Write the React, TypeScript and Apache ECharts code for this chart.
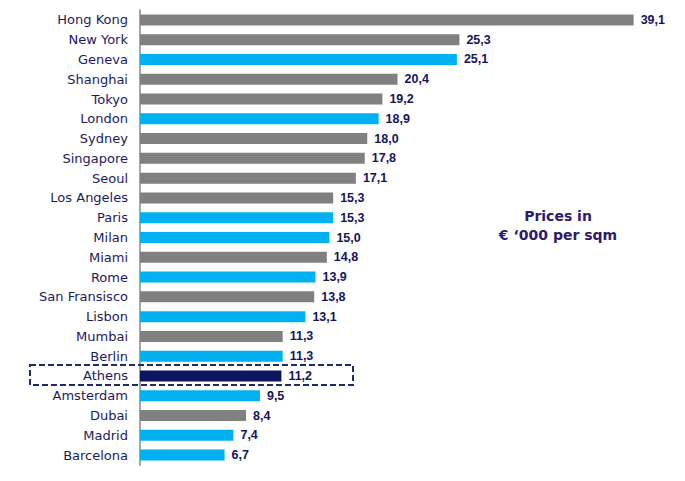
import React, { useEffect, useRef } from "react";
import * as echarts from "echarts";

const cities = [
  "Hong Kong", "New York", "Geneva", "Shanghai", "Tokyo", "London", "Sydney",
  "Singapore", "Seoul", "Los Angeles", "Paris", "Milan", "Miami", "Rome",
  "San Fransisco", "Lisbon", "Mumbai", "Berlin", "Athens", "Amsterdam",
  "Dubai", "Madrid", "Barcelona",
];
const prices = [
  39.1, 25.3, 25.1, 20.4, 19.2, 18.9, 18.0, 17.8, 17.1, 15.3, 15.3, 15.0,
  14.8, 13.9, 13.8, 13.1, 11.3, 11.3, 11.2, 9.5, 8.4, 7.4, 6.7,
];
// group of each city: "other" (grey), "europe" (blue), "focus" (Athens)
const groups = [
  "other", "other", "europe", "other", "other", "europe", "other",
  "other", "other", "other", "europe", "europe", "other", "europe",
  "other", "europe", "other", "europe", "focus", "europe",
  "other", "europe", "europe",
];
const noteLines = ["Prices in", "€ \u2018000 per sqm"];

const COLORS: Record<string, string> = {
  other: "#808080",
  europe: "#00b0f0",
  focus: "#0d1660",
};

export default function App() {
  const ref = useRef<HTMLDivElement>(null);
  useEffect(() => {
    if (!ref.current) return;
    const chart = echarts.init(ref.current, null, { renderer: "svg" });
    const font = "'DejaVu Sans', sans-serif";
    chart.setOption({
      animation: false,
      grid: { left: 140, right: 40, top: 10, bottom: 16, containLabel: false },
      xAxis: {
        type: "value",
        min: 0,
        max: 40,
        show: false,
      },
      yAxis: {
        type: "category",
        data: cities,
        inverse: true,
        axisLine: { show: true, lineStyle: { color: "#a6a6a6", width: 2 } },
        axisTick: { show: false },
        axisLabel: {
          color: "#1c1a5e",
          fontSize: 13,
          fontFamily: font,
          margin: 12,
        },
        splitLine: { show: false },
      },
      series: [
        {
          type: "bar",
          barWidth: 11,
          data: prices.map((v, i) => ({
            value: v,
            itemStyle: { color: COLORS[groups[i]] },
          })),
          label: {
            show: true,
            position: "right",
            distance: 7,
            color: "#14145a",
            fontWeight: "bold",
            fontSize: 12.5,
            fontFamily: "'Liberation Sans', Arial, sans-serif",
            formatter: (p: any) => Number(p.value).toFixed(1).replace(".", ","),
          },
        },
      ],
      graphic: [
        {
          type: "rect",
          shape: { x: 30, y: 365, width: 323, height: 20 },
          style: { fill: "none", stroke: "#1f2a66", lineWidth: 2, lineDash: [6, 3] },
          z: 100,
        },
        {
          type: "text",
          x: 558,
          y: 225.5,
          style: {
            text: noteLines.join("\n"),
            fill: "#2b1a6e",
            font: `bold 14px ${font}`,
            align: "center",
            verticalAlign: "middle",
            lineHeight: 19,
          },
        },
      ],
    });
    return () => chart.dispose();
  }, []);
  return <div ref={ref} style={{ width: 685, height: 481, margin: -8 }} />;
}
